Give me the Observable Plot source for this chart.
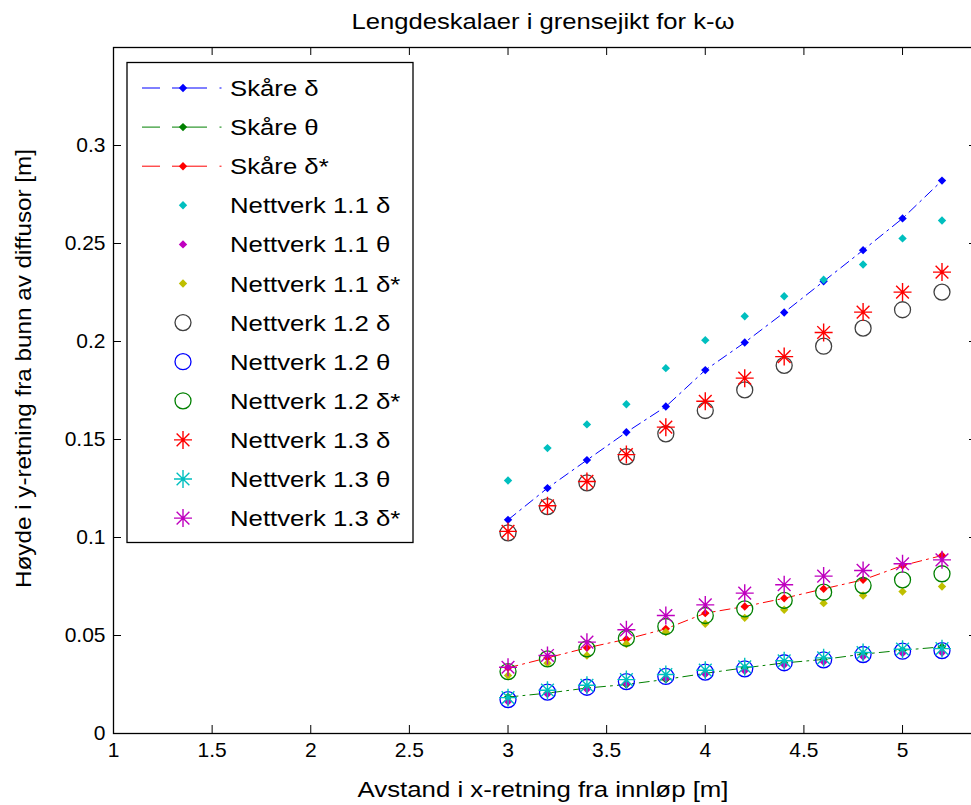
<!DOCTYPE html>
<html>
<head>
<meta charset="utf-8">
<script src="https://cdn.jsdelivr.net/npm/d3@7"></script>
<script src="https://cdn.jsdelivr.net/npm/@observablehq/plot@0.6"></script>
<style>
  html, body { margin: 0; padding: 0; background: white; overflow: hidden; }
  #chart { width: 971px; height: 805px; overflow: hidden; }
  #chart svg { max-width: none !important; }
</style>
</head>
<body>
<div id="chart"></div>
<script>
// ---------- data ----------
const xs = [3.0, 3.2, 3.4, 3.6, 3.8, 4.0, 4.2, 4.4, 4.6, 4.8, 5.0, 5.2];

const skareDelta     = [0.1090, 0.1252, 0.1395, 0.1537, 0.1668, 0.1854, 0.1995, 0.2148, 0.2307, 0.2466, 0.2628, 0.2821];
const skareTheta     = [0.0186, 0.0206, 0.0232, 0.0250, 0.0276, 0.0307, 0.0335, 0.0360, 0.0378, 0.0405, 0.0425, 0.0442];
const skareDeltaStar = [0.0335, 0.0386, 0.0437, 0.0481, 0.0534, 0.0614, 0.0648, 0.0690, 0.0738, 0.0784, 0.0857, 0.0908];

const n11Delta     = [0.1291, 0.1456, 0.1577, 0.1680, 0.1864, 0.2007, 0.2129, 0.2231, 0.2315, 0.2393, 0.2526, 0.2617];
const n11Theta     = [0.0163, 0.0201, 0.0226, 0.0255, 0.0281, 0.0303, 0.0320, 0.0351, 0.0366, 0.0393, 0.0410, 0.0413];
const n11DeltaStar = [0.0296, 0.0359, 0.0398, 0.0457, 0.0517, 0.0560, 0.0590, 0.0631, 0.0665, 0.0704, 0.0724, 0.0750];

const n12Delta     = [0.1024, 0.1158, 0.1279, 0.1413, 0.1529, 0.1648, 0.1753, 0.1878, 0.1976, 0.2068, 0.2162, 0.2252];
const n12Theta     = [0.0173, 0.0211, 0.0236, 0.0265, 0.0291, 0.0313, 0.0330, 0.0361, 0.0376, 0.0403, 0.0420, 0.0423];
const n12DeltaStar = [0.0316, 0.0381, 0.0432, 0.0486, 0.0546, 0.0602, 0.0636, 0.0679, 0.0721, 0.0755, 0.0784, 0.0815];

const n13Delta     = [0.1031, 0.1162, 0.1286, 0.1423, 0.1563, 0.1695, 0.1813, 0.1923, 0.2046, 0.2150, 0.2252, 0.2354];
const n13Theta     = [0.0183, 0.0221, 0.0246, 0.0275, 0.0301, 0.0323, 0.0340, 0.0371, 0.0386, 0.0413, 0.0430, 0.0433];
const n13DeltaStar = [0.0338, 0.0398, 0.0466, 0.0529, 0.0602, 0.0656, 0.0716, 0.0759, 0.0803, 0.0832, 0.0866, 0.0886];

const xTicks = [1, 1.5, 2, 2.5, 3, 3.5, 4, 4.5, 5];
const xTickLabels = ["1", "1.5", "2", "2.5", "3", "3.5", "4", "4.5", "5"];
const yTicks = [0, 0.05, 0.1, 0.15, 0.2, 0.25, 0.3];
const yTickLabels = ["0", "0.05", "0.1", "0.15", "0.2", "0.25", "0.3"];

const titleText = "Lengdeskalaer i grensejikt for k-ω";
const xLabel = "Avstand i x-retning fra innløp [m]";
const yLabel = "Høyde i y-retning fra bunn av diffusor [m]";

// colours (MATLAB)
const C = {
  blue: "#0000ff", green: "#008000", red: "#ff0000",
  cyan: "#00bfbf", magenta: "#bf00bf", olive: "#bfbf00", dark: "#404040"
};

// ---------- symbols ----------
const diamondSym = { draw(ctx, size) { const r = Math.sqrt(size / Math.PI);
  ctx.moveTo(0, -r); ctx.lineTo(r, 0); ctx.lineTo(0, r); ctx.lineTo(-r, 0); ctx.closePath(); } };
const star8Sym = { draw(ctx, size) { const r = Math.sqrt(size / Math.PI); const d = r * 0.7071;
  ctx.moveTo(-r, 0); ctx.lineTo(r, 0); ctx.moveTo(0, -r); ctx.lineTo(0, r);
  ctx.moveTo(-d, -d); ctx.lineTo(d, d); ctx.moveTo(-d, d); ctx.lineTo(d, -d); } };
const circleSym = { draw(ctx, size) { const r = Math.sqrt(size / Math.PI);
  ctx.moveTo(r, 0); ctx.arc(0, 0, r, 0, 2 * Math.PI); } };

// ---------- series ----------
const series = [
  {name: "Skåre δ",           vals: skareDelta,     color: C.blue,    kind: "line"},
  {name: "Skåre θ",           vals: skareTheta,     color: C.green,   kind: "line"},
  {name: "Skåre δ*",          vals: skareDeltaStar, color: C.red,     kind: "line"},
  {name: "Nettverk 1.1 δ",    vals: n11Delta,       color: C.cyan,    kind: "diamond"},
  {name: "Nettverk 1.1 θ",    vals: n11Theta,       color: C.magenta, kind: "diamond"},
  {name: "Nettverk 1.1 δ*",   vals: n11DeltaStar,   color: C.olive,   kind: "diamond"},
  {name: "Nettverk 1.2 δ",    vals: n12Delta,       color: C.dark,    kind: "circle"},
  {name: "Nettverk 1.2 θ",    vals: n12Theta,       color: C.blue,    kind: "circle"},
  {name: "Nettverk 1.2 δ*",   vals: n12DeltaStar,   color: C.green,   kind: "circle"},
  {name: "Nettverk 1.3 δ",    vals: n13Delta,       color: C.red,     kind: "star"},
  {name: "Nettverk 1.3 θ",    vals: n13Theta,       color: C.cyan,    kind: "star"},
  {name: "Nettverk 1.3 δ*",   vals: n13DeltaStar,   color: C.magenta, kind: "star"}
];

const W = 978, H = 805;
const mL = 113, mR = 1, mT = 47, mB = 72;
const innerW = W - mL - mR, innerH = H - mT - mB;
const FONT = "'Liberation Sans', Arial, sans-serif";

const marks = [];
for (const s of series) {
  const data = xs.map((x, i) => ({x, y: s.vals[i]}));
  if (s.kind === "line") {
    marks.push(Plot.line(data, {x: "x", y: "y", stroke: s.color, strokeWidth: 1, strokeDasharray: "10,5,2,5"}));
    marks.push(Plot.dot(data, {x: "x", y: "y", symbol: diamondSym, r: 4.2, fill: s.color, stroke: "none"}));
  } else if (s.kind === "diamond") {
    marks.push(Plot.dot(data, {x: "x", y: "y", symbol: diamondSym, r: 4.2, fill: s.color, stroke: "none"}));
  } else if (s.kind === "circle") {
    marks.push(Plot.dot(data, {x: "x", y: "y", symbol: circleSym, r: 8, fill: "none", stroke: s.color, strokeWidth: 1.3}));
  } else {
    marks.push(Plot.dot(data, {x: "x", y: "y", symbol: star8Sym, r: 9, fill: "none", stroke: s.color, strokeWidth: 1.4}));
  }
}

const chart = Plot.plot({
  width: W, height: H,
  marginLeft: mL, marginRight: mR, marginTop: mT, marginBottom: mB,
  style: {fontFamily: FONT, fontSize: "21px", background: "white", color: "black", maxWidth: "none"},
  x: {domain: [1, 5.38]},
  y: {domain: [0, 0.35]},
  marks: [
    Plot.axisX({ticks: xTicks, tickSize: 0, tickPadding: 9, label: null,
      tickFormat: d => xTickLabels[xTicks.indexOf(d)], fontSize: 21}),
    Plot.axisY({ticks: yTicks, tickSize: 0, tickPadding: 8, label: null,
      tickFormat: d => yTickLabels[yTicks.indexOf(d)], fontSize: 21}),
    Plot.tickX(xTicks, {x: d => d, insetTop: innerH - 8, stroke: "black", strokeWidth: 1}),
    Plot.tickX(xTicks, {x: d => d, insetBottom: innerH - 8, stroke: "black", strokeWidth: 1}),
    Plot.tickY(yTicks, {y: d => d, insetRight: innerW - 8, stroke: "black", strokeWidth: 1}),
    Plot.tickY(yTicks, {y: d => d, insetLeft: innerW - 8, stroke: "black", strokeWidth: 1}),
    ...marks,
    Plot.frame({stroke: "black", strokeWidth: 1.3})
  ]
});
chart.style.maxWidth = "none";
document.getElementById("chart").appendChild(chart);

const svg = d3.select(chart);

// ---------- title and axis labels ----------
const lab = svg.append("g").attr("font-family", FONT).attr("font-size", 22).attr("fill", "black").attr("text-anchor", "middle");
lab.append("text").attr("x", 543).attr("y", 29).attr("textLength", 383).attr("lengthAdjust", "spacingAndGlyphs").text(titleText);
lab.append("text").attr("x", 543).attr("y", 797).attr("textLength", 371).attr("lengthAdjust", "spacingAndGlyphs").text(xLabel);
lab.append("text").attr("transform", "translate(31,368.5) rotate(-90)").attr("textLength", 439).attr("lengthAdjust", "spacingAndGlyphs").text(yLabel);

// ---------- legend ----------
const lg = svg.append("g").attr("font-family", FONT).attr("font-size", 22).attr("text-anchor", "start");
lg.append("rect").attr("x", 127).attr("y", 62.5).attr("width", 286).attr("height", 480)
  .attr("fill", "white").attr("stroke", "black").attr("stroke-width", 1.3);
series.forEach((s, i) => {
  const y = 88 + i * 39.1;
  const g = lg.append("g").attr("transform", `translate(0,${y})`);
  if (s.kind === "line") {
    g.append("path").attr("d", "M142,0H160M172,0H207M219.5,0H221.5")
      .attr("stroke", s.color).attr("stroke-width", 1).attr("fill", "none");
  }
  let sym, size, fill, stroke, sw;
  if (s.kind === "line" || s.kind === "diamond") { sym = diamondSym; size = Math.PI * 4.2 * 4.2; fill = s.color; stroke = "none"; sw = 0; }
  else if (s.kind === "circle") { sym = circleSym; size = Math.PI * 8 * 8; fill = "none"; stroke = s.color; sw = 1.3; }
  else { sym = star8Sym; size = Math.PI * 9 * 9; fill = "none"; stroke = s.color; sw = 1.4; }
  g.append("path").attr("transform", "translate(183,0)").attr("d", d3.symbol(sym, size)())
    .attr("fill", fill).attr("stroke", stroke).attr("stroke-width", sw);
  g.append("text").attr("transform", "translate(230,8) scale(1.17,1)").attr("fill", "black").text(s.name);
});
</script>
</body>
</html>
